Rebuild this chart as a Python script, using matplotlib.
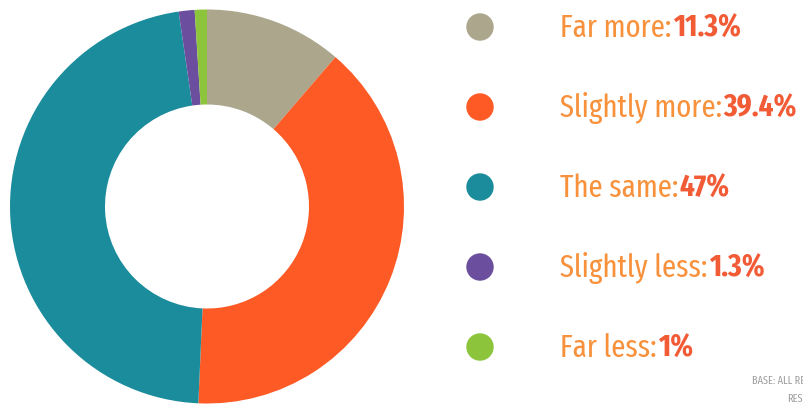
import matplotlib
matplotlib.use("Agg")
import matplotlib.pyplot as plt

labels = ["Far more", "Slightly more", "The same", "Slightly less", "Far less"]
values = [11.3, 39.4, 47, 1.3, 1]
value_text = ["11.3%", "39.4%", "47%", "1.3%", "1%"]
colors = ["#aba68c", "#fd5a26", "#1b8c9c", "#6b4f9e", "#8cc43c"]

fam = ["Fira Sans Extra Condensed", "DejaVu Sans"]

fig = plt.figure(figsize=(8.04, 4.09), dpi=100)
ax = fig.add_axes([0, 0, 1, 1])
ax.set_xlim(0, 804)
ax.set_ylim(0, 409)
ax.set_aspect("equal")
ax.axis("off")

ax.pie(values, colors=colors, startangle=90, counterclock=False,
       center=(207, 202.5), radius=197,
       wedgeprops=dict(width=95, linewidth=0))
ax.set_xlim(0, 804)
ax.set_ylim(0, 409)

for i, (lab, vt, c) in enumerate(zip(labels, value_text, colors)):
    y = 409 - (27 + 80 * i)
    ax.scatter([480], [y], s=390, color=c, edgecolors="none", zorder=3)
    t = ax.text(560, y - 1, lab + ":", fontsize=22.5, color="#f8913b",
                family=fam, va="center", ha="left")
    ax.annotate(vt, xy=(1, 0), xycoords=t, xytext=(1, 0), textcoords="offset points",
                fontsize=22.5, color="#f15b36", family=fam, fontweight="bold",
                va="bottom", ha="left")

ax.text(752, 409 - 381, "BASE: ALL RESPONDENTS", fontsize=8, color="#a0a0a0",
        family=fam, va="center", ha="left")
ax.text(787, 409 - 399, "RESPONDENTS", fontsize=8, color="#a0a0a0",
        family=fam, va="center", ha="left")

fig.savefig("out.png", dpi=100)
